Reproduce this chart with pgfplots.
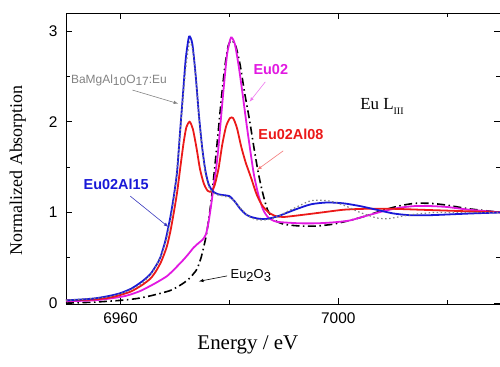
\documentclass[border=0pt]{standalone}
\usepackage{fontspec}
\setmainfont{Liberation Serif}
\setsansfont{Liberation Sans}
\usepackage{pgfplots}
\pgfplotsset{compat=1.18}
\definecolor{cblue}{RGB}{25,25,215}
\definecolor{cred}{RGB}{235,25,25}
\definecolor{cmag}{RGB}{225,25,225}
\definecolor{cgray}{RGB}{130,130,130}
\begin{document}
\begin{tikzpicture}
\path[use as bounding box] (-66bp,-63bp) rectangle (434bp,304bp);
\begin{axis}[
  at={(0,0)}, anchor=south west,
  scale only axis, width=434bp, height=291bp,
  xmin=6950, xmax=7029.7, ymin=-0.01, ymax=3.2,
  xtick={6960,7000}, minor xtick={6980,7020},
  ytick={0,1,2,3}, minor ytick={0.5,1.5,2.5},
  tick align=inside,
  major tick length=6bp, minor tick length=4bp,
  tick style={line width=0.7pt, black},
  axis line style={line width=0.8pt},
  ticklabel style={font=\sffamily\fontsize{15.5}{15.5}\selectfont},
  /pgf/number format/assume math mode=true,
  /pgf/number format/1000 sep={},
  xticklabel style={yshift=-5bp},
  yticklabel style={xshift=-5bp},
  xlabel={Energy / eV},
  xlabel style={font=\fontsize{21}{21}\selectfont, at={(axis description cs:0.419,-0.141)}, anchor=center},
  ylabel={Normalized Absorption},
  ylabel style={font=\fontsize{18}{18}\selectfont, at={(axis description cs:-0.111,0.46)}, anchor=center, rotate=0},
  every axis plot/.append style={smooth, tension=0.4},
  clip=true,
]
% Eu2O3 (black dash-dot)
\addplot[black, line width=1.6pt, dash pattern=on 8bp off 3.5bp on 1.5bp off 3.5bp] coordinates {
(6950,0.00) (6955,0.01) (6960,0.03) (6963,0.05) (6965.5,0.08) (6967.5,0.11) (6969.2,0.14) (6970.5,0.18) (6971.8,0.23) (6972.8,0.28) (6973.5,0.33) (6974.1,0.38) (6974.8,0.50) (6975.3,0.62) (6975.8,0.76) (6976.3,0.96) (6976.8,1.20) (6977.4,1.55) (6978,1.92) (6978.6,2.30) (6979.2,2.62) (6979.8,2.84) (6980.4,2.90) (6981.2,2.83) (6982,2.62) (6982.8,2.32) (6983.7,2.02) (6984.5,1.72) (6985.3,1.44) (6986.1,1.22) (6987,1.03) (6988.2,0.92) (6990,0.87) (6993,0.85) (6996,0.85) (6999,0.87) (7002,0.91) (7005,0.96) (7008,1.02) (7011,1.07) (7014,1.10) (7017,1.10) (7020,1.08) (7024,1.04) (7030,1.00)
};
% Eu02 (magenta)
\addplot[cmag, line width=1.8pt] coordinates {
(6950,0.02) (6955,0.03) (6958,0.05) (6961,0.08) (6963.5,0.13) (6965.5,0.19) (6967,0.24) (6968.6,0.30) (6970,0.38) (6971.6,0.48) (6972.6,0.55) (6973.4,0.61) (6974.3,0.66) (6975.1,0.70) (6975.7,0.76) (6976.2,0.90) (6976.7,1.10) (6977.2,1.33) (6977.6,1.50) (6978,1.72) (6978.4,2.00) (6979,2.40) (6979.6,2.75) (6980.3,2.93) (6981,2.86) (6981.7,2.62) (6982.4,2.32) (6983.1,2.00) (6983.8,1.70) (6984.5,1.42) (6985.3,1.20) (6986.2,1.03) (6987.2,0.94) (6988.5,0.90) (6990,0.89) (6993,0.88) (6996,0.88) (6999,0.89) (7002,0.91) (7005,0.96) (7008,1.01) (7011,1.05) (7014,1.07) (7017,1.07) (7020,1.06) (7024,1.03) (7030,1.00)
};
% Eu02Al08 (red)
\addplot[cred, line width=1.8pt] coordinates {
(6950,0.03) (6955,0.04) (6958,0.06) (6960,0.09) (6962,0.13) (6964,0.20) (6965.5,0.27) (6966.5,0.35) (6967.5,0.46) (6968.5,0.62) (6969.2,0.80) (6969.8,1.00) (6970.4,1.22) (6971,1.50) (6971.6,1.77) (6972.1,1.94) (6972.7,2.00) (6973.3,1.92) (6974,1.70) (6974.6,1.48) (6975.3,1.32) (6976,1.24) (6976.7,1.23) (6977.3,1.30) (6978,1.48) (6978.7,1.75) (6979.4,1.95) (6980.1,2.04) (6980.7,2.04) (6981.4,1.93) (6982.2,1.72) (6983,1.55) (6984,1.38) (6985,1.20) (6986,1.08) (6987.2,1.00) (6988.5,0.96) (6990,0.95) (6993,0.97) (6997,1.00) (7001,1.03) (7005,1.04) (7010,1.04) (7015,1.03) (7020,1.02) (7025,1.01) (7030,1.00)
};
% Eu02Al15 (blue)
\addplot[cblue, line width=1.8pt] coordinates {
(6950,0.03) (6955,0.05) (6958,0.08) (6960,0.11) (6962,0.16) (6964,0.24) (6965.5,0.32) (6966.5,0.41) (6967.3,0.50) (6968.3,0.70) (6969.2,0.96) (6969.8,1.18) (6970.4,1.45) (6970.9,1.85) (6971.5,2.32) (6972,2.70) (6972.6,2.94) (6973.2,2.86) (6973.8,2.52) (6974.4,2.08) (6975,1.72) (6975.6,1.46) (6976.2,1.31) (6977,1.23) (6978,1.20) (6979,1.19) (6980,1.18) (6981,1.12) (6982,1.04) (6983,0.98) (6984,0.95) (6985.5,0.93) (6987,0.93) (6989,0.96) (6992,1.03) (6995,1.09) (6998,1.11) (7001,1.10) (7004,1.07) (7007,1.03) (7010,0.99) (7013,0.97) (7017,0.97) (7021,0.98) (7025,0.99) (7030,1.00)
};
% BaMgAl10O17:Eu (gray dotted)
\addplot[cgray, line width=1.2pt, dash pattern=on 1.5bp off 2.5bp] coordinates {
(6950,0.03) (6958,0.07) (6962,0.15) (6964,0.22) (6966,0.35) (6967.5,0.53) (6968.5,0.72) (6969.3,0.95) (6970,1.25) (6970.7,1.70) (6971.4,2.20) (6972,2.60) (6972.7,2.88) (6973.3,2.78) (6973.9,2.45) (6974.5,2.00) (6975.1,1.65) (6975.7,1.40) (6976.4,1.26) (6977.5,1.20) (6979,1.18) (6980.5,1.15) (6982,1.05) (6983.5,0.96) (6985,0.92) (6987,0.92) (6989,0.96) (6992,1.05) (6995,1.13) (6998,1.13) (7001,1.08) (7004,1.00) (7007,0.94) (7009,0.93) (7011,0.95) (7014,0.98) (7018,1.00) (7024,1.00) (7030,1.00)
};
% annotations
\node[anchor=west, inner sep=0pt, text=cgray, font=\sffamily\fontsize{12}{12}\selectfont] at (axis cs:6950.9,2.46) {BaMgAl\raisebox{-0.35ex}{10}O\raisebox{-0.35ex}{17}:Eu};
\draw[cgray, line width=0.6pt, -{latex}] (axis cs:6962.2,2.35) -- (axis cs:6970.6,2.2);
\node[anchor=west, inner sep=0pt, text=cmag, font=\sffamily\bfseries\fontsize{14.5}{14.5}\selectfont] at (axis cs:6984.4,2.58) {Eu02};
\draw[cmag!60, line width=0.6pt, -{latex}] (axis cs:6986.6,2.44) -- (axis cs:6983.7,2.22);
\node[anchor=west, inner sep=0pt, text=cred, font=\sffamily\bfseries\fontsize{14.5}{14.5}\selectfont] at (axis cs:6985.3,1.86) {Eu02Al08};
\draw[cred!60, line width=0.6pt, -{latex}] (axis cs:6989.9,1.68) -- (axis cs:6985.1,1.47);
\node[anchor=west, inner sep=0pt, text=cblue, font=\sffamily\bfseries\fontsize{14.5}{14.5}\selectfont] at (axis cs:6953.2,1.31) {Eu02Al15};
\draw[cblue!70!gray, line width=0.6pt, -{latex}] (axis cs:6961.8,1.18) -- (axis cs:6968.8,0.84);
\node[anchor=west, inner sep=0pt, font=\sffamily\fontsize{13}{13}\selectfont] at (axis cs:6980.2,0.30) {Eu\raisebox{-0.4ex}{2}O\raisebox{-0.4ex}{3}};
\draw[black, line width=0.6pt, -{latex}] (axis cs:6979.6,0.30) -- (axis cs:6974.4,0.24);
\node[anchor=west, inner sep=0pt, font=\fontsize{17}{17}\selectfont] at (axis cs:7004.0,2.17) {Eu L\raisebox{-0.6ex}{\fontsize{10}{10}\selectfont III}};
\end{axis}
\end{tikzpicture}
\end{document}
